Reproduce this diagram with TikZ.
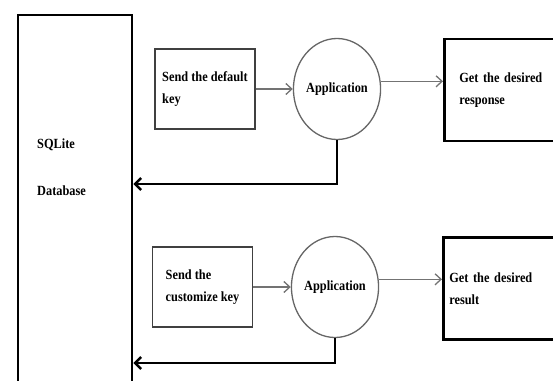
\documentclass[tikz,border=0pt]{standalone}
\usepackage{fontspec}
\setmainfont[FakeStretch=0.88]{Liberation Serif}
\usetikzlibrary{shapes.geometric,arrows.meta,calc}
\begin{document}
\begin{tikzpicture}[x=1pt,y=-1pt,
 txt/.style={font=\fontsize{14}{22}\selectfont\bfseries},
 sendbox/.style={draw=black!75, line width=1.3pt, minimum width=100pt, minimum height=80pt, inner sep=0pt, txt, align=left},
 getbox/.style={draw=black, line width=2.6pt, anchor=west, minimum height=102pt, text width=110pt, align=left, txt},
 app/.style={draw=black!60, line width=1.3pt, ellipse, minimum width=83pt, minimum height=101pt, inner sep=0pt, txt},
 arr/.style={draw=black!55, line width=1.3pt, -{Straight Barb[length=6pt,width=11pt]}},
 fb/.style={draw=black, line width=2.6pt, -{Straight Barb[length=6pt,width=12pt]}}
]
\useasboundingbox (0,0) rectangle (553,380);
\clip (0,0) rectangle (553,380);
% database
\node[draw, line width=2.3pt, minimum width=114pt, minimum height=406pt, inner sep=0pt, anchor=north west] (db) at (17,14) {};
\node[txt, anchor=base west, inner sep=0pt] (dbt1) at (37,148) {SQLite};
\node[txt, anchor=base west, inner sep=0pt] (dbt2) at (37,195) {Database};
% upper row
\node[sendbox] (send1) at (205,89) {Send the default\\key};
\node[app] (app1) at (337,89) {Application};
\node[getbox, inner xsep=15pt] (get1) at (443,90) {Get the desired\\response};
% lower row
\node[sendbox] (send2) at (202.5,287) {Send the\\customize key};
\node[app] (app2) at (335,287) {Application};
\node[getbox, inner xsep=6pt] (get2) at (442,288.5) {Get the desired\\result};
% arrows
\draw[arr] (send1) -- (app1);
\draw[arr] (app1.10) -- (app1.10 -| get1.west);
\draw[arr] (send2) -- (app2);
\draw[arr] (app2.10) -- (app2.10 -| get2.west);
% feedback
\coordinate (f1) at (app1.south |- 0,184);
\draw[fb] (app1.south) -- (f1) -- (f1 -| db.east);
\coordinate (f2) at (app2.south |- 0,363);
\draw[fb] (app2.south) -- (f2) -- (f2 -| db.east);
\end{tikzpicture}
\end{document}
